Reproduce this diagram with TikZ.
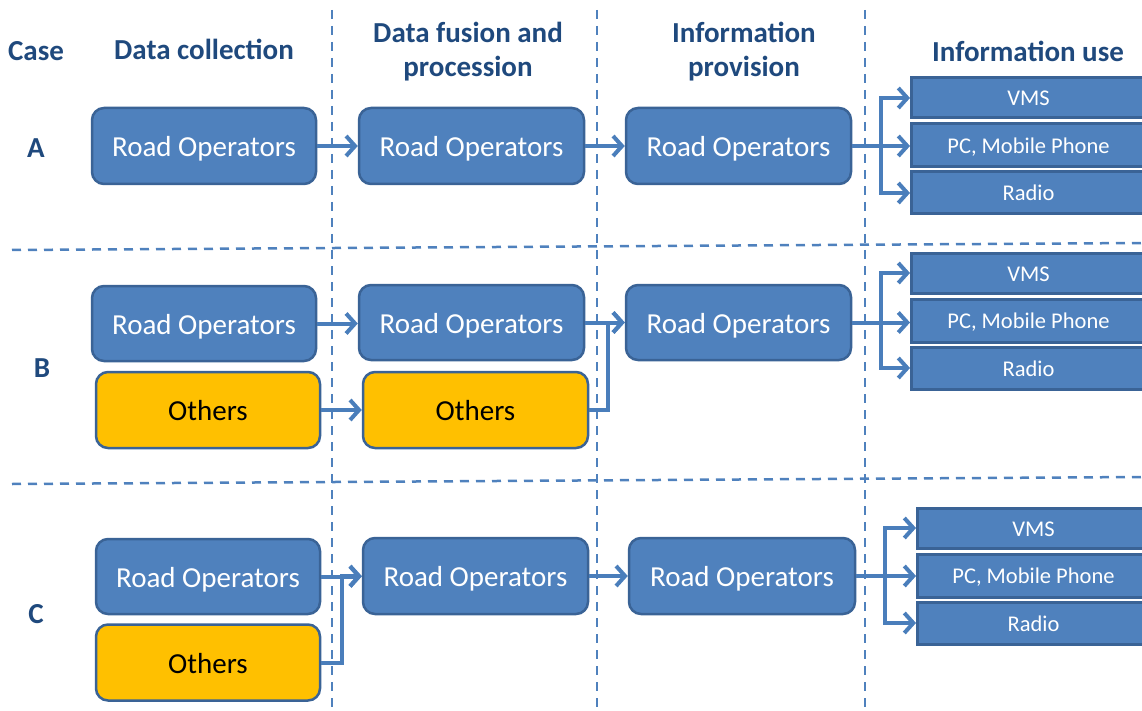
\documentclass[tikz,border=0pt]{standalone}
\usepackage{fontspec}
\setmainfont{Carlito}
\usetikzlibrary{arrows.meta}
\definecolor{boxfill}{HTML}{4F81BD}
\definecolor{boxline}{HTML}{3A6396}
\definecolor{arrowcol}{HTML}{4A7EBB}
\definecolor{headcol}{HTML}{1F497D}
\definecolor{yellowfill}{HTML}{FFC000}
\tikzset{
  rbox/.style={draw=boxline, line width=2.5pt, rounded corners=12pt, fill=boxfill,
    text=white, minimum width=224pt, minimum height=76pt, inner sep=0pt,
    text height=27pt, text depth=6pt,
    font=\fontsize{29}{34}\selectfont},
  ybox/.style={rbox, fill=yellowfill, text=black},
  sbox/.style={draw=boxline, line width=3pt, fill=boxfill, text=white,
    minimum width=234pt, inner sep=0pt, anchor=west,
    text height=16pt, text depth=0pt,
    font=\fontsize{22.5}{27}\selectfont},
  head/.style={text=headcol, font=\bfseries\fontsize{29}{34}\selectfont, align=center},
  arr/.style={draw=arrowcol, line width=4pt, -{Straight Barb[length=9pt,width=20pt]}},
  sep/.style={draw=boxfill, line width=2.5pt, dash pattern=on 9pt off 7pt},
}
\begin{document}
\begin{tikzpicture}[x=1pt,y=-1pt]
\useasboundingbox (0,0) rectangle (1142,711);
\clip (0,0) rectangle (1142,711);

% column and row separators
\draw[sep] (332,10) -- (332,711);
\draw[sep] (597,10) -- (597,711);
\draw[sep] (865,10) -- (865,711);
\draw[sep] (12,250) -- (1142,243);
\draw[sep] (12,484) -- (1142,477);

% headings
\node[head] (hcase) at (36,51) {Case};
\node[head] (hcol) at (204,49) {Data collection};
\node[head] (hfus) at (468,52) {Data fusion and\\procession};
\node[head] (hprov) at (744,52) {Information\\provision};
\node[head] (huse) at (1028,51) {Information use};

\node[head] (ca) at (36,148) {A};
\node[head] (cb) at (42,368) {B};
\node[head] (cc) at (36,614) {C};

% case A
\node[rbox] (a1) at (204,146) {Road Operators};
\node[rbox, minimum width=225pt] (a2) at (471.5,146) {Road Operators};
\node[rbox, minimum width=225pt] (a3) at (738.5,146) {Road Operators};
\node[sbox, minimum height=40pt] (avms) at (910,98) {VMS};
\node[sbox, minimum height=43pt] (apc) at (910,145.5) {PC, Mobile Phone};
\node[sbox, minimum height=42pt] (arad) at (910,193) {Radio};

\draw[arr] (a1.east) -- (a1.east -| a2.west);
\draw[arr] (a2.east) -- (a2.east -| a3.west);
\draw[arr] (a3.east) -- (a3.east -| apc.west);
\draw[arr] (a3.east) -- ++(29,0) |- (avms.west);
\draw[arr] (a3.east) -- ++(29,0) |- (arad.west);

% case B
\node[rbox, minimum height=75pt] (b1) at (204,323.5) {Road Operators};
\node[ybox] (b1o) at (208,410) {Others};
\node[rbox, minimum width=225pt, minimum height=75pt] (b2) at (471.5,322.5) {Road Operators};
\node[ybox, minimum width=225pt] (b2o) at (475.5,410) {Others};
\node[rbox, minimum width=225pt, minimum height=75pt] (b3) at (738.5,322.5) {Road Operators};
\node[sbox, minimum height=40pt] (bvms) at (910,273) {VMS};
\node[sbox, minimum height=43pt] (bpc) at (910,320.5) {PC, Mobile Phone};
\node[sbox, minimum height=42pt] (brad) at (910,368) {Radio};

\draw[arr] (b1.east) -- (b1.east -| b2.west);
\draw[arr] (b1o.east) -- (b1o.east -| b2o.west);
\draw[arr] (b2.east) -- (b2.east -| b3.west);
\draw[arr] (b2o.east) -- ++(19,0) |- (b3.west);
\draw[arr] (b3.east) -- (b3.east -| bpc.west);
\draw[arr] (b3.east) -- ++(29,0) |- (bvms.west);
\draw[arr] (b3.east) -- ++(29,0) |- (brad.west);

% case C
\node[rbox, minimum height=75pt] (c1) at (208,576.5) {Road Operators};
\node[ybox] (c1o) at (208,662.5) {Others};
\node[rbox, minimum width=225pt] (c2) at (475.5,576) {Road Operators};
\node[rbox, minimum width=226pt] (c3) at (742,576) {Road Operators};
\node[sbox, minimum width=232pt, minimum height=40pt] (cvms) at (916,528) {VMS};
\node[sbox, minimum width=232pt, minimum height=43pt] (cpc) at (916,575.5) {PC, Mobile Phone};
\node[sbox, minimum width=232pt, minimum height=42pt] (crad) at (916,623) {Radio};

\draw[arr] (c1.east) -- (c1.east -| c2.west);
\draw[arr] (c1o.east) -- ++(21,0) |- (c2.west);
\draw[arr] (c2.east) -- (c2.east -| c3.west);
\draw[arr] (c3.east) -- (c3.east -| cpc.west);
\draw[arr] (c3.east) -- ++(29,0) |- (cvms.west);
\draw[arr] (c3.east) -- ++(29,0) |- (crad.west);
\end{tikzpicture}
\end{document}
